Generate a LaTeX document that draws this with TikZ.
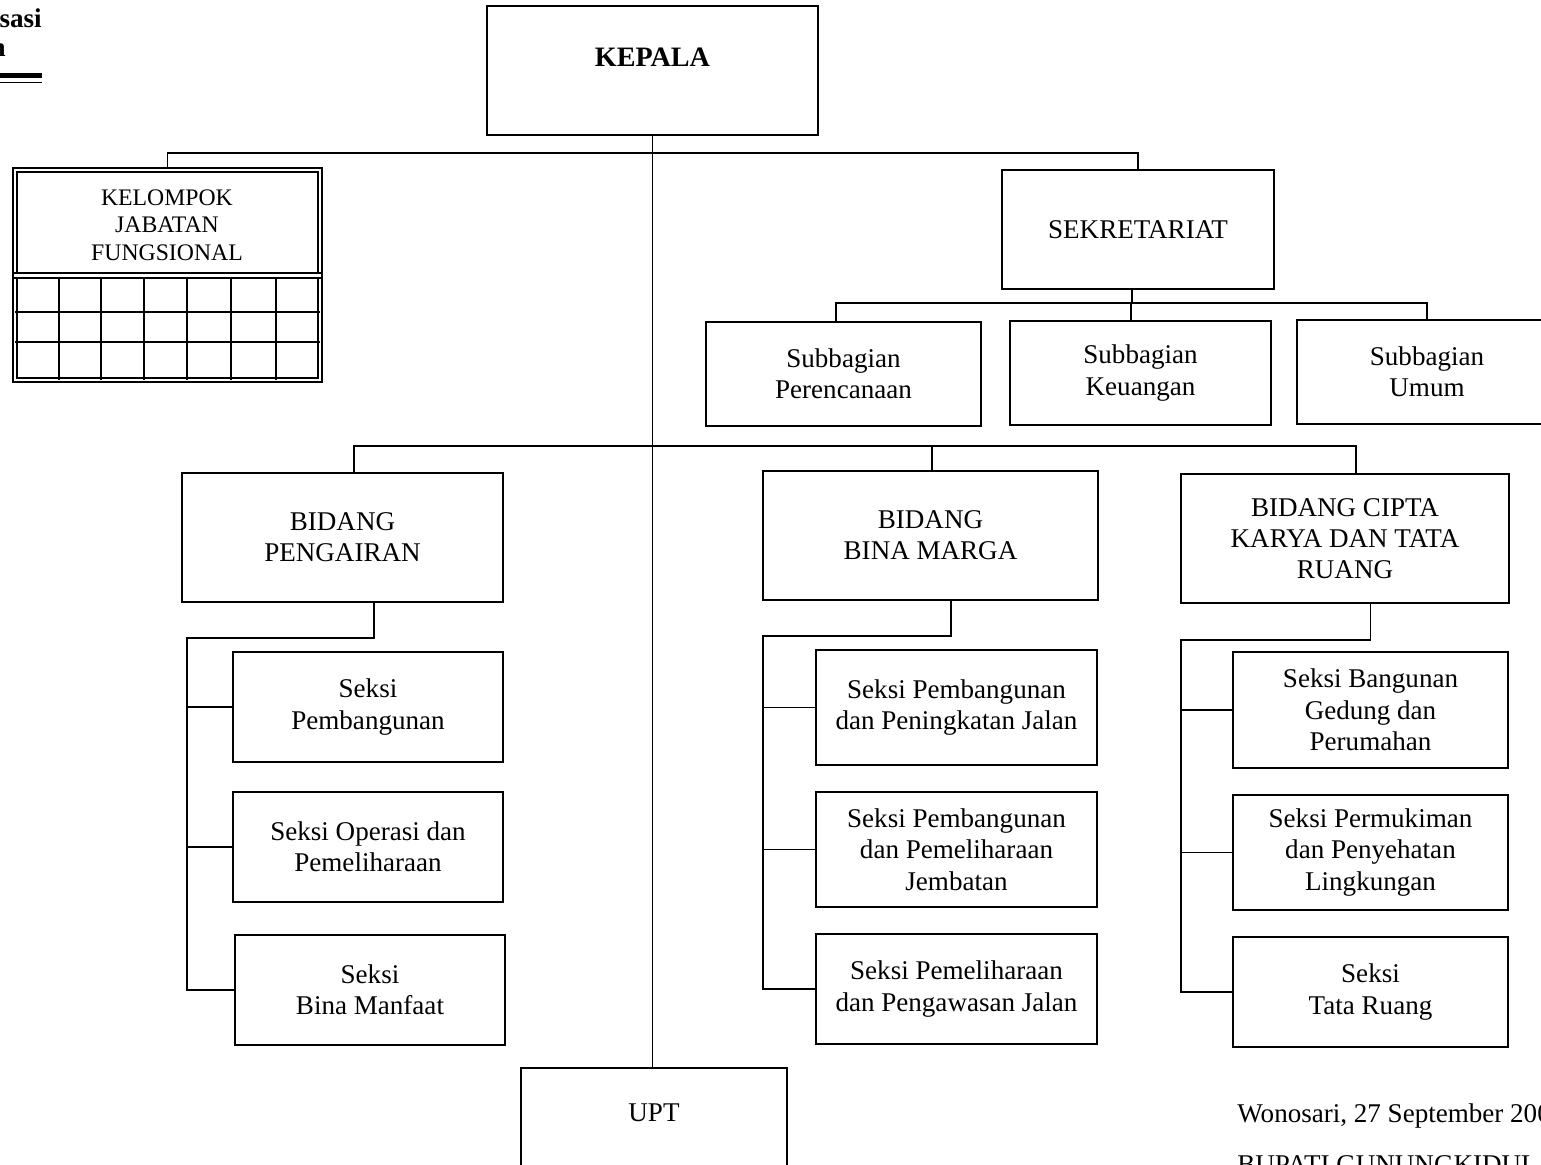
\documentclass[tikz,border=0pt]{standalone}
\usepackage{fontspec}
\setmainfont{Liberation Serif}
\usetikzlibrary{positioning}

\begin{document}
\begin{tikzpicture}[x=0.02cm, y=-0.02cm, unit/.style={draw, line width=1pt, align=center, font=\fontsize{15.4}{17.8}\selectfont}, link/.style={line width=1pt}, lbl/.style={inner sep=0pt, font=\fontsize{15.4}{17.8}\selectfont}, grid/.style={line width=1pt}, dbl/.style={draw, double, line width=1pt, double distance=1.6pt}]
\useasboundingbox (0,0) rectangle (1541,1165); \clip (0,0) rectangle (1541,1165);
% top level
\node[unit, minimum width=6.62cm, minimum height=2.58cm] (kepala) at (652.5,70.5) {}; \node[font=\fontsize{16}{18}\selectfont\bfseries] (kepalatxt) at (652.5,57) {KEPALA};
\node[dbl, minimum width=6.1cm, minimum height=4.2cm] (kjf) at (167.5,275) {}; \node[align=center, font=\fontsize{13.5}{15.6}\selectfont] (kjftxt) at (167,225) {KELOMPOK\\JABATAN\\FUNGSIONAL};
\node[unit, minimum width=5.44cm, minimum height=2.38cm] (sekret) at (1138,229.5) {SEKRETARIAT};
\node[unit, minimum width=5.5cm, minimum height=2.08cm] (sub1) at (843.5,374) {Subbagian\\Perencanaan}; \node[unit, minimum width=5.22cm, minimum height=2.08cm] (sub2) at (1140.5,373) {Subbagian\\Keuangan}; \node[unit, minimum width=5.2cm, minimum height=2.08cm] (sub3) at (1427,372) {Subbagian\\Umum};
% bidang
\node[unit, minimum width=6.42cm, minimum height=2.58cm] (pengairan) at (342.5,537.5) {BIDANG\\PENGAIRAN}; \node[unit, minimum width=6.7cm, minimum height=2.58cm] (binamarga) at (930.5,535.5) {BIDANG\\BINA MARGA}; \node[unit, minimum width=6.56cm, minimum height=2.58cm] (cipta) at (1345,538.5) {BIDANG CIPTA\\KARYA DAN TATA\\RUANG};
% seksi
\node[unit, minimum width=5.4cm, minimum height=2.2cm] (peng1) at (368,707) {Seksi\\Pembangunan}; \node[unit, minimum width=5.4cm, minimum height=2.2cm] (peng2) at (368,847) {Seksi Operasi dan\\Pemeliharaan}; \node[unit, minimum width=5.4cm, minimum height=2.2cm] (peng3) at (370,990) {Seksi\\Bina Manfaat};
\node[unit, minimum width=5.62cm, minimum height=2.3cm] (bm1) at (956.5,707.5) {Seksi Pembangunan\\dan Peningkatan Jalan}; \node[unit, minimum width=5.62cm, minimum height=2.3cm] (bm2) at (956.5,849.5) {Seksi Pembangunan\\dan Pemeliharaan\\Jembatan}; \node[unit, minimum width=5.62cm, minimum height=2.2cm] (bm3) at (956.5,989) {Seksi Pemeliharaan\\dan Pengawasan Jalan};
\node[unit, minimum width=5.5cm, minimum height=2.32cm] (ck1) at (1370.5,710) {Seksi Bangunan\\Gedung dan\\Perumahan}; \node[unit, minimum width=5.5cm, minimum height=2.3cm] (ck2) at (1370.5,852.5) {Seksi Permukiman\\dan Penyehatan\\Lingkungan}; \node[unit, minimum width=5.5cm, minimum height=2.2cm] (ck3) at (1370.5,992) {Seksi\\Tata Ruang};
\node[unit, minimum width=5.32cm, minimum height=2.64cm] (upt) at (654,1134) {}; \node[lbl] (upttxt) at (654,1113) {UPT};
% kjf inside
\coordinate (kjfmid) at (167,275.5); \draw[dbl] (kjf.west |- kjfmid) -- (kjf.east |- kjfmid);
\foreach \x in {59,101,144,187,231,276} \draw[grid] (\x,278) -- (\x,380); \foreach \y in {312,342} \draw[grid] (15,\y) -- (320,\y);
% connectors
\coordinate (bus1) at (652,153); \coordinate (bus2) at (1132,303); \coordinate (bus3) at (652,446);
\draw[link] (kepala.south) -- (kepala.south |- upt.north); \draw[link] (kjf.north) |- (bus1) -| (sekret.north); \draw[link] ([xshift=-0.12cm]sekret.south) -- (bus2); \draw[link] ([xshift=-0.15cm]sub1.north) |- (bus2) -| (sub3.north); \draw[link] ([xshift=-0.19cm]sub2.north) -- ([xshift=-0.19cm]sub2.north |- bus2);
\draw[link] ([xshift=0.23cm]pengairan.north) |- (bus3) -| ([xshift=0.22cm]cipta.north); \draw[link] ([xshift=0.03cm]binamarga.north) -- ([xshift=0.03cm]binamarga.north |- bus3);
\coordinate (pengbus) at (187,638); \coordinate (bmbus) at (763,636); \coordinate (ckbus) at (1181,640);
\draw[link] ([xshift=0.12cm]peng1.north |- pengairan.south) |- (pengbus) |- (peng3.west); \draw[link] (pengbus |- peng1.west) -- (peng1.west); \draw[link] (pengbus |- peng2.west) -- (peng2.west);
\draw[link] ([xshift=-0.11cm]bm1.north |- binamarga.south) |- (bmbus) |- (bm3.west); \draw[link] (bmbus |- bm1.west) -- (bm1.west); \draw[link] (bmbus |- bm2.west) -- (bm2.west);
\draw[link] (ck1.north |- cipta.south) |- (ckbus) |- (ck3.west); \draw[link] (ckbus |- ck1.west) -- (ck1.west); \draw[link] (ckbus |- ck2.west) -- (ck2.west);
% cut-off texts
\node[lbl, font=\fontsize{15.4}{17.8}\selectfont\bfseries, anchor=base east] (title1) at (42,28) {sasi}; \node[lbl, font=\fontsize{15.4}{17.8}\selectfont\bfseries, anchor=base east] (title2) at (6,57) {n};
\draw[line width=2.8pt] (0,75.5) -- (42,75.5); \draw[line width=0.8pt] (0,82.5) -- (42,82.5);
\node[lbl, anchor=base west] (place) at (1237,1122) {Wonosari, 27 September 200}; \node[lbl, anchor=base west] (bupati) at (1237,1173) {BUPATI GUNUNGKIDUL,};
\end{tikzpicture}
\end{document}
